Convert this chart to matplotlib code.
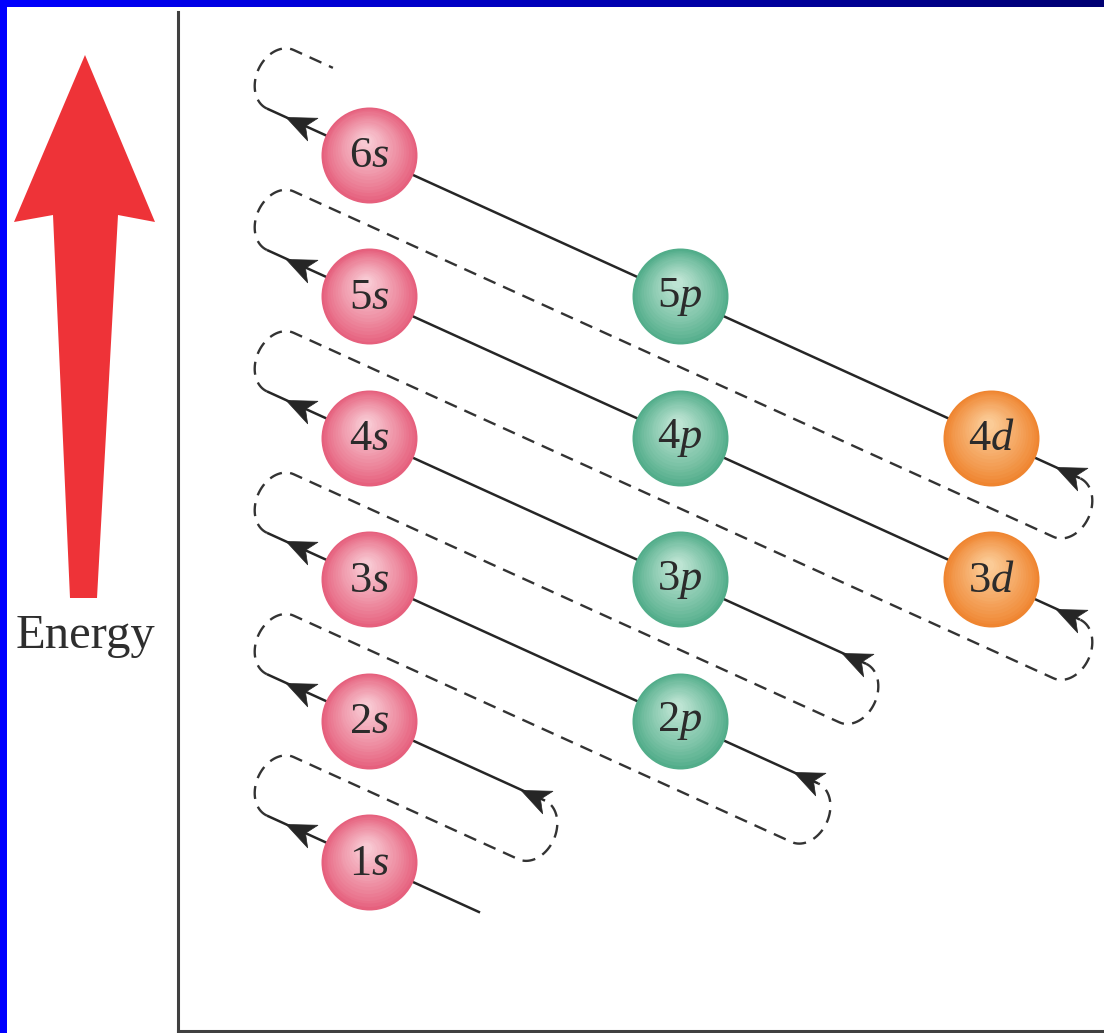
import numpy as np
import matplotlib
matplotlib.use('Agg')
import matplotlib.pyplot as plt
from matplotlib.path import Path
from matplotlib.markers import MarkerStyle
from matplotlib.transforms import Affine2D, offset_copy
from matplotlib.patches import Polygon
from matplotlib.colors import to_rgb

plt.rcParams['mathtext.fontset'] = 'custom'
plt.rcParams['mathtext.rm'] = 'Liberation Serif'
plt.rcParams['mathtext.it'] = 'Liberation Serif:italic'

# orbitals: principal number n, subshell index l
s_n = [1, 2, 3, 4, 5, 6]
p_n = [2, 3, 4, 5]
d_n = [3, 4]
subshells = ['s', 'p', 'd']
ball_colors = {  # edge, highlight
    's': ('#e6607d', '#f8c8d2'),
    'p': ('#52ad8a', '#bde4d3'),
    'd': ('#ef8530', '#fbcb96'),
}

# filling order lines (n + l = k), where each solid line starts on the right
line_k = [1, 2, 3, 4, 5, 6]
line_start_l = [0.357, 0.566, 1.444, 1.598, 2.286, 2.286]
line_end_l = -0.328
tail_end_l = -0.116

fig = plt.figure(figsize=(11.04, 10.33), dpi=100)

# decorations in pixel coordinates
deco = fig.add_axes([0, 0, 1, 1])
deco.set_xlim(0, 1104)
deco.set_ylim(1033, 0)
deco.axis('off')

grad = np.linspace(0, 1, 256)[None, :]
top_cols = np.zeros((1, 256, 3))
top_cols[..., 2] = 1.0 - 0.55 * grad
deco.imshow(top_cols, extent=(0, 1104, 7, 0), aspect='auto')
deco.add_patch(plt.Rectangle((0, 0), 7, 1033, color='#0000ff', lw=0))

arrow_pts = [(85, 55), (155, 222), (118, 215), (97, 598), (70, 598), (53, 215), (14, 222)]
deco.add_patch(Polygon(arrow_pts, closed=True, color='#ee3338', lw=0))
deco.text(85, 648, 'Energy', fontsize=35, family='Liberation Serif',
          color='#2e2e2e', ha='center', va='baseline')

ax = fig.add_axes([178 / 1104, 2 / 1033, 926 / 1104, 1019 / 1033])
ax.patch.set_alpha(0)
ax.set_xlim(-0.614, 2.363)
ax.set_ylim(-0.195, 7.011)
ax.set_xticks([])
ax.set_yticks([])
for side in ['top', 'right']:
    ax.spines[side].set_visible(False)
for side in ['left', 'bottom']:
    ax.spines[side].set_color('#404040')
    ax.spines[side].set_linewidth(2.2)

# pixel scale of the data units
o = ax.transData.transform((0, 0))
SX = ax.transData.transform((1, 0))[0] - o[0]
SY = ax.transData.transform((0, 1))[1] - o[1]
norm = np.hypot(SX, SY)
dvec = np.array([-SX, SY]) / norm    # along the line, up-left
nvec = np.array([SY, SX]) / norm     # towards the next line
h = SY * SX / norm / 2               # line to midline distance
a = 24.0                             # cap bulge


def P(k, l):
    return np.array([l * SX, (k - l) * SY])


def to_data(pts):
    pts = np.asarray(pts)
    return pts[:, 0] / SX, pts[:, 1] / SY


line_col = '#262626'
theta = np.linspace(-np.pi / 2, np.pi / 2, 40)

ang = np.degrees(np.arctan2(SY, -SX))
head = Path([(1, 0), (-1, 0.85), (-0.45, 0), (-1, -0.85), (1, 0)],
            [Path.MOVETO, Path.LINETO, Path.LINETO, Path.LINETO, Path.CLOSEPOLY])
head_marker = MarkerStyle(head, transform=Affine2D().rotate_deg(ang))

for i, k in enumerate(line_k):
    R = P(k, line_start_l[i])
    L = P(k, line_end_l)
    x, y = to_data([R, L])
    ax.plot(x, y, color=line_col, lw=1.8, solid_capstyle='butt', zorder=2)

    # arrow heads
    tip = P(k, -0.26)
    heads = [tip - 12 * dvec]
    if i > 0:
        heads.append(R + 12 * dvec)
    hx, hy = to_data(heads)
    ax.plot(hx, hy, ls='none', marker=head_marker, ms=21, color=line_col,
            mec=line_col, mew=0.5, zorder=3)

    # dashed return path
    c1 = L + (h / 2) * nvec
    cap1 = [c1 + a * np.cos(t) * dvec + (h / 2) * np.sin(t) * nvec for t in theta]
    if i < len(line_k) - 1:
        R2 = P(line_k[i + 1], line_start_l[i + 1])
        c2 = R2 - (h / 2) * nvec
        cap2 = [c2 - a * np.cos(t) * dvec + (h / 2) * np.sin(t) * nvec for t in theta]
        pts = cap1 + cap2
    else:
        pts = cap1 + [P(k + 0.5, tail_end_l)]
    x, y = to_data(pts)
    ax.plot(x, y, color='#333333', lw=1.7, dashes=(5.5, 3.5), zorder=2)

# orbital balls with a soft highlight
for l, (sub, ns) in enumerate(zip(subshells, [s_n, p_n, d_n])):
    edge, hi = (np.array(to_rgb(c)) for c in ball_colors[sub])
    xs = [l] * len(ns)
    nl = 18
    for j in range(nl):
        t = j / (nl - 1)
        r = 48 * (1 - 0.88 * t)
        col = edge + (hi - edge) * t ** 0.9
        tr = offset_copy(ax.transData, fig=fig, x=-3 * t, y=14 * t, units='dots')
        ax.scatter(xs, ns, s=(2 * r * 0.72) ** 2, color=col, lw=0,
                   transform=tr, zorder=4 + j * 0.01)
    for n in ns:
        ax.text(l, n, '$%d%s$' % (n, sub), fontsize=32, color='#2b2b2b',
                ha='center', va='center', zorder=6)

fig.savefig('out.png', dpi=100)
